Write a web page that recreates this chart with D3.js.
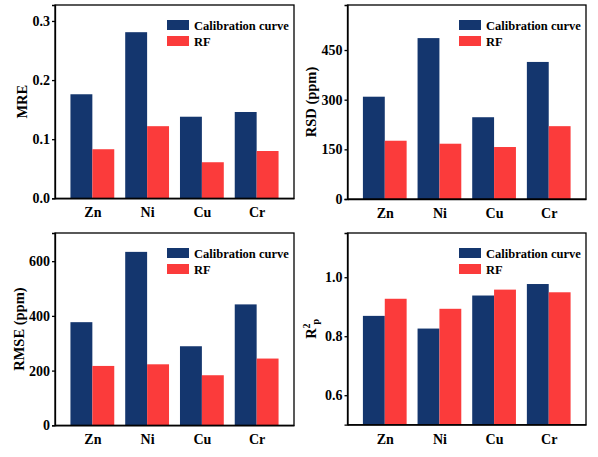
<!DOCTYPE html>
<html><head><meta charset="utf-8">
<script src="https://cdn.jsdelivr.net/npm/d3@7"></script>
</head>
<body style="margin:0;background:#fff">
<svg id="chart" width="598" height="457" style="display:block"></svg>
<script>
const categories = ["Zn", "Ni", "Cu", "Cr"];
const seriesNames = ["Calibration curve", "RF"];
const seriesColors = ["#14366e", "#fb3b3b"];

const mreCal = [0.176, 0.281, 0.138, 0.146];
const mreRF = [0.083, 0.122, 0.061, 0.080];
const rsdCal = [309, 486, 247, 414];
const rsdRF = [176, 167, 157, 220];
const rmseCal = [377, 634, 289, 442];
const rmseRF = [217, 223, 183, 244];
const r2Cal = [0.869, 0.826, 0.938, 0.977];
const r2RF = [0.927, 0.893, 0.958, 0.949];

const mreTicks = [0, 0.1, 0.2, 0.3];
const rsdTicks = [0, 150, 300, 450];
const rmseTicks = [0, 200, 400, 600];
const r2Ticks = [0.6, 0.8, 1.0];

const FONT = "Liberation Serif";

const panels = [
  {cal: mreCal, rf: mreRF, ticks: mreTicks, fmt: d3.format(".1f"), domain: [0, 0.327],
   box: {l: 55, r: 294, t: 5, b: 198.3}, label: "MRE", labelX: 27},
  {cal: rsdCal, rf: rsdRF, ticks: rsdTicks, fmt: d3.format("d"), domain: [0, 586],
   box: {l: 347.5, r: 586, t: 5, b: 199}, label: "RSD (ppm)", labelX: 316},
  {cal: rmseCal, rf: rmseRF, ticks: rmseTicks, fmt: d3.format("d"), domain: [0, 703],
   box: {l: 55, r: 294, t: 233, b: 425.3}, label: "RMSE (ppm)", labelX: 24},
  {cal: r2Cal, rf: r2RF, ticks: r2Ticks, fmt: d3.format(".1f"), domain: [0.5, 1.15],
   box: {l: 347.5, r: 586, t: 233, b: 424.7}, label: "R2p", labelX: 316}
];

const svg = d3.select("#chart");

function fontify(sel, size) {
  sel.attr("font-family", FONT).attr("font-weight", "bold").attr("font-size", size).attr("fill", "#000")
    .style("font-family", FONT);
}

panels.forEach(p => {
  const B = p.box;
  const g = svg.append("g");
  const x = d3.scalePoint().domain(categories).range([B.l, B.r]).padding(0.682);
  const bw = x.step() * 0.4;
  const y = d3.scaleLinear().domain(p.domain).range([B.b, B.t]);

  const rows = categories.map((c, i) => ({c, v: [p.cal[i], p.rf[i]]}));
  rows.forEach(row => {
    row.v.forEach((v, s) => {
      g.append("rect")
        .attr("x", x(row.c) + (s - 1) * bw)
        .attr("y", y(v))
        .attr("width", bw)
        .attr("height", y(p.domain[0]) - y(v))
        .attr("fill", seriesColors[s]);
    });
  });

  g.append("rect").attr("x", B.l).attr("y", B.t).attr("width", B.r - B.l).attr("height", B.b - B.t)
    .attr("fill", "none").attr("stroke", "#000").attr("stroke-width", 1.3);

  const ya = d3.axisLeft(y).tickValues(p.ticks).tickFormat(p.fmt).tickSize(3).tickPadding(2);
  const yg = g.append("g").attr("transform", `translate(${B.l},0)`).call(ya);
  yg.attr("font-family", FONT).attr("font-size", 14);
  yg.select(".domain").attr("stroke-width", 1.3);
  yg.selectAll(".tick line").attr("stroke-width", 1.3);
  fontify(yg.selectAll("text"), 14);

  const xa = d3.axisBottom(x).tickSize(0).tickPadding(9);
  const xg = g.append("g").attr("transform", `translate(0,${B.b})`).call(xa);
  xg.attr("font-family", FONT).attr("font-size", 14);
  xg.select(".domain").attr("stroke-width", 1.3);
  fontify(xg.selectAll("text"), 14);

  const cy = (B.t + B.b) / 2;
  const lab = g.append("text").attr("transform", `translate(${p.labelX},${cy}) rotate(-90)`)
    .attr("text-anchor", "middle");
  fontify(lab, 14.5);
  if (p.label === "R2p") {
    lab.append("tspan").text("R");
    lab.append("tspan").text("2").attr("dy", -6).attr("font-size", 10);
    lab.append("tspan").text("p").attr("dx", -1).attr("dy", 9).attr("font-size", 10);
  } else {
    lab.text(p.label);
  }

  const lx = B.r - 127, ly = B.t + 15;
  seriesNames.forEach((n, s) => {
    g.append("rect").attr("x", lx).attr("y", ly + s * 16).attr("width", 22).attr("height", 10)
      .attr("fill", seriesColors[s]);
    const t = g.append("text").attr("x", lx + 27).attr("y", ly + s * 16 + 9.5).text(n);
    fontify(t, 12.5);
  });
});
</script>
</body></html>
